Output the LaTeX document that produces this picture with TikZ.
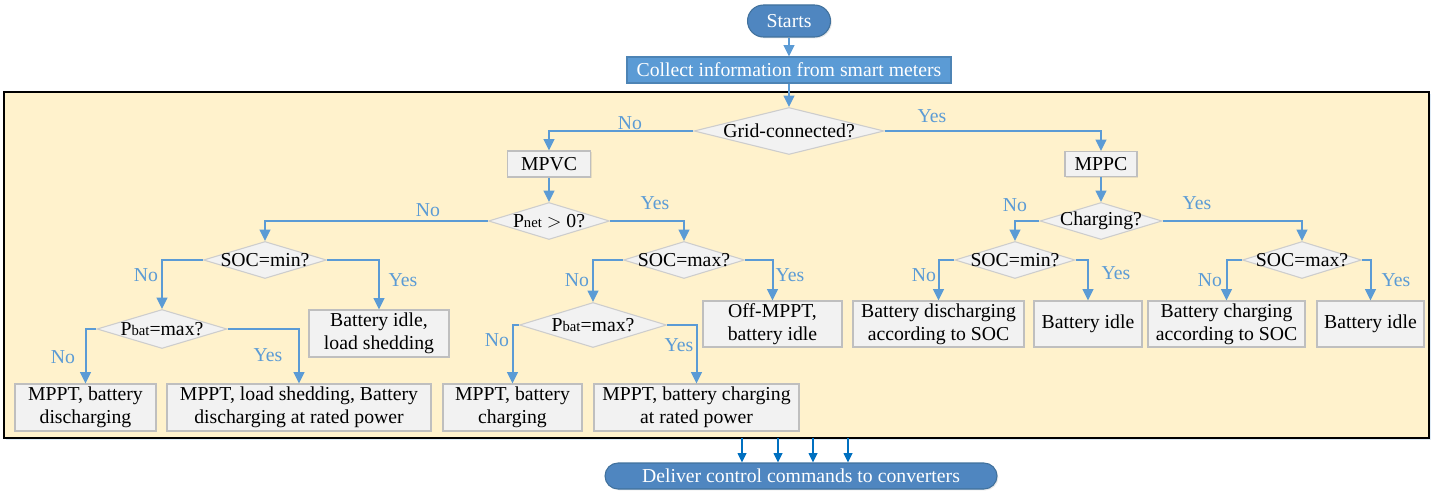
\documentclass[tikz,border=0pt]{standalone}
\usepackage{fontspec}
\setmainfont{Liberation Serif}
\usetikzlibrary{shapes.geometric,arrows.meta,shadows}
\definecolor{conn}{RGB}{91,155,213}
\definecolor{startblue}{RGB}{79,134,192}
\definecolor{startline}{RGB}{65,113,156}
\definecolor{collectblue}{RGB}{91,155,213}
\definecolor{cmdblue}{RGB}{0,112,192}
\definecolor{panelfill}{RGB}{255,242,204}
\definecolor{boxfill}{RGB}{242,242,242}
\definecolor{boxline}{RGB}{191,191,191}
\definecolor{dialine}{RGB}{205,205,205}
\newcommand{\Psub}[1]{P{\fontsize{11}{10}\selectfont\raisebox{-0.5pt}{#1}}}
\begin{document}
\begin{tikzpicture}[x=0.75pt,y=-0.75pt,font=\fontsize{14.8}{17}\selectfont,
  box/.style={draw=boxline,fill=boxfill,line width=0.8pt,align=center,inner sep=0pt,
    drop shadow={shadow xshift=1pt,shadow yshift=-1pt,opacity=0.18,fill=gray}},
  dia/.style={diamond,draw=dialine,fill=boxfill,line width=0.8pt,inner sep=0pt},
  conn/.style={draw=conn,line width=1.5pt,-{Triangle[length=8.5pt,width=8pt]}},
  cmd/.style={draw=cmdblue,line width=1.2pt,-{Triangle[length=7pt,width=6.5pt]}},
  lab/.style={text=conn,inner sep=0pt},
  term/.style={draw=startline,fill=startblue,text=white,line width=0.8pt,inner sep=0pt,
    drop shadow={shadow xshift=1pt,shadow yshift=-1pt,opacity=0.18,fill=gray}},
  panel/.style={draw=black,fill=panelfill,line width=1pt,inner sep=0pt,
    drop shadow={shadow xshift=1.5pt,shadow yshift=-1.5pt,opacity=0.2,fill=conn}}]
\useasboundingbox (0,0) rectangle (1441,495);

% panel
\node[panel,minimum width=1068.75pt,minimum height=259.5pt] (panel) at (716.5,265) {};

% top terminals
\node[term,rounded corners=12pt,minimum width=62.25pt,minimum height=24pt] (start) at (789,21) {Starts};
\node[term,draw=collectblue!85!black,fill=collectblue,minimum width=243pt,minimum height=19.5pt] (collect) at (789,70) {Collect information from smart meters};

% decisions
\node[dia,minimum width=142.5pt,minimum height=35.25pt,label=center:{Grid-connected?}] (grid) at (789,131) {};
\node[box,minimum width=62.25pt,minimum height=19.5pt] (mpvc) at (549,164) {MPVC};
\node[box,minimum width=54pt,minimum height=18.75pt] (mppc) at (1101,164) {MPPC};
\node[dia,minimum width=90.75pt,minimum height=27.75pt,label=center:{\Psub{net} \ensuremath{>} 0?}] (pnet) at (549,221) {};
\node[dia,minimum width=91.5pt,minimum height=27.75pt,label=center:{Charging?}] (chg) at (1101,221) {};
\node[dia,minimum width=92.25pt,minimum height=27.75pt,label=center:{SOC=min?}] (smin1) at (265,260) {};
\node[dia,minimum width=90.75pt,minimum height=27.75pt,label=center:{SOC=max?}] (smax1) at (684,260) {};
\node[dia,minimum width=90pt,minimum height=27.75pt,label=center:{SOC=min?}] (smin2) at (1015,260) {};
\node[dia,minimum width=89.25pt,minimum height=27.75pt,label=center:{SOC=max?}] (smax2) at (1302,260) {};
\node[dia,minimum width=97.5pt,minimum height=29.25pt,label=center:{\Psub{bat}=max?}] (pbat1) at (162,329) {};
\node[dia,minimum width=110.25pt,minimum height=33.75pt,label=center:{\Psub{bat}=max?}] (pbat2) at (593,325) {};

% result boxes
\node[box,minimum width=105.75pt,minimum height=35.25pt] (b1) at (85.5,407.5) {MPPT, battery\\discharging};
\node[box,minimum width=198pt,minimum height=35.25pt] (b2) at (299,407.5) {MPPT, load shedding, Battery\\discharging at rated power};
\node[box,minimum width=105pt,minimum height=35.25pt] (b3) at (379,333.5) {Battery idle,\\load shedding};
\node[box,minimum width=104.25pt,minimum height=35.25pt] (b4) at (512.5,407.5) {MPPT, battery\\charging};
\node[box,minimum width=153.75pt,minimum height=35.25pt] (b5) at (696.5,407.5) {MPPT, battery charging\\at rated power};
\node[box,minimum width=104.25pt,minimum height=34.5pt] (b6) at (772.5,324) {Off-MPPT,\\battery idle};
\node[box,minimum width=128.25pt,minimum height=34.5pt] (b7) at (938.5,324) {Battery discharging\\according to SOC};
\node[box,minimum width=81pt,minimum height=34.5pt] (b8) at (1088,324) {Battery idle};
\node[box,minimum width=117.75pt,minimum height=34.5pt] (b9) at (1226.5,324) {Battery charging\\according to SOC};
\node[box,minimum width=80.25pt,minimum height=34.5pt] (b10) at (1370.5,324) {Battery idle};

% bottom terminal
\node[term,rounded corners=9.75pt,minimum width=294pt,minimum height=19.5pt] (deliver) at (801,476) {Deliver control commands to converters};

% connectors
\draw[conn] (start) -- (collect);
\draw[conn] (collect) -- (grid);
\draw[conn] (grid.west) -| (mpvc.north);
\draw[conn] (grid.east) -| (mppc.north);
\draw[conn] (mpvc) -- (pnet);
\draw[conn] (mppc) -- (chg);
\draw[conn] (pnet.west) -| (smin1.north);
\draw[conn] (pnet.east) -| (smax1.north);
\draw[conn] (smin1.west) -| (pbat1.north);
\draw[conn] (smin1.east) -| (b3.north);
\draw[conn] (pbat1.west) -| (b1.north);
\draw[conn] (pbat1.east) -| (b2.north);
\draw[conn] (smax1.west) -| (pbat2.north);
\draw[conn] (smax1.east) -| (b6.north);
\draw[conn] (pbat2.west) -| (b4.north);
\draw[conn] (pbat2.east) -| (b5.north);
\draw[conn] (chg.west) -| (smin2.north);
\draw[conn] (chg.east) -| (smax2.north);
\draw[conn] (smin2.west) -| (b7.north);
\draw[conn] (smin2.east) -| (b8.north);
\draw[conn] (smax2.west) -| (b9.north);
\draw[conn] (smax2.east) -| (b10.north);

% branch labels
\node[lab] (l1) at (630,123) {No};
\node[lab] (l2) at (932,116) {Yes};
\node[lab] (l3) at (428,210) {No};
\node[lab] (l4) at (655,203) {Yes};
\node[lab] (l5) at (146,275) {No};
\node[lab] (l6) at (403,280) {Yes};
\node[lab] (l7) at (63,357) {No};
\node[lab] (l8) at (268,355) {Yes};
\node[lab] (l9) at (577,280) {No};
\node[lab] (l10) at (790,275) {Yes};
\node[lab] (l11) at (497,340) {No};
\node[lab] (l12) at (679,345) {Yes};
\node[lab] (l13) at (1015,205) {No};
\node[lab] (l14) at (1197,203) {Yes};
\node[lab] (l15) at (924,275) {No};
\node[lab] (l16) at (1116,273) {Yes};
\node[lab] (l17) at (1210,280) {No};
\node[lab] (l18) at (1396,280) {Yes};

% commands to converters
\coordinate (c1) at (742,438);
\coordinate (c2) at (778,438);
\coordinate (c3) at (813,438);
\coordinate (c4) at (848,438);
\draw[cmd] (c1) -- (c1 |- deliver.north);
\draw[cmd] (c2) -- (c2 |- deliver.north);
\draw[cmd] (c3) -- (c3 |- deliver.north);
\draw[cmd] (c4) -- (c4 |- deliver.north);
\end{tikzpicture}
\end{document}
